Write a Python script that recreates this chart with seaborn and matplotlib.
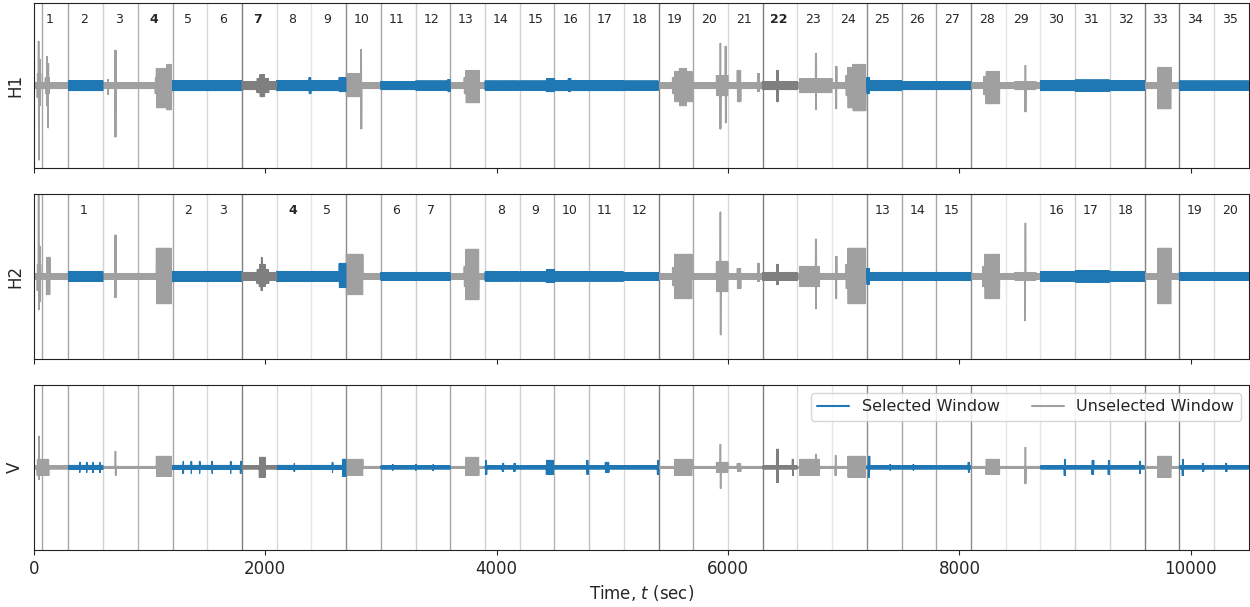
import numpy as np
import pandas as pd
import matplotlib.pyplot as plt
from matplotlib.lines import Line2D
import seaborn as sns

# window layout: 35 windows of 300 s each
WIN_LEN = 300
T_END = 10500
n_win = 35

# s = selected, u = unselected, d = unselected (darker trace)
status = ['u', 's', 'u', 'u', 's', 's', 'd', 's', 's', 'u', 's', 's', 'u', 's', 's',
          's', 's', 's', 'u', 'u', 'u', 'd', 'u', 'u', 's', 's', 's', 'u', 'u', 's',
          's', 's', 'u', 's', 's']

# window boundary lines (sec) and how dark each one is (alpha of black)
boundary_t = [70, 300, 600, 900, 1200, 1500, 1800, 2100, 2400, 2700, 3000, 3300, 3600,
              3900, 4200, 4500, 4800, 5100, 5400, 5700, 6000, 6300, 6600, 6900, 7200,
              7500, 7800, 8100, 8400, 8700, 9000, 9300, 9600, 9900, 10200]
boundary_alpha = [0.35, 0.35, 0.18, 0.3, 0.35, 0.15, 0.5, 0.15, 0.1, 0.45, 0.35, 0.2, 0.35,
                  0.18, 0.18, 0.3, 0.25, 0.15, 0.5, 0.35, 0.15, 0.5, 0.15, 0.1, 0.45,
                  0.35, 0.35, 0.45, 0.1, 0.1, 0.2, 0.18, 0.5, 0.5, 0.15]

# envelope of each trace
# base half-amplitude per window
h1_base = [3, 5, 3, 3, 5, 5, 4, 5, 5, 3, 4, 4.5, 3, 4.5, 4.5, 5, 5, 4.5, 3, 3, 3, 4, 3, 3,
           5, 4, 4, 3, 3, 5, 5.5, 5, 3, 4.5, 4.5]
h2_base = [3, 5, 3, 3, 5, 5, 4, 5, 5, 3, 4, 4, 3, 4.5, 4.5, 4.5, 4.5, 4, 3, 3, 3, 4, 3, 3,
           4, 4, 4, 3, 3, 5, 5.5, 5, 3, 4, 4]
v_base = [1.5, 2, 1, 1, 2, 2, 1.5, 2, 2, 1, 1.5, 1.5, 1, 1.5, 1.5, 1.5, 1.5, 1.5, 1, 1, 1,
          1.5, 1, 1, 1.5, 1.5, 1.5, 1, 1, 1.5, 1.5, 1.5, 1, 1.5, 1.5]

# bursts: (start, end, upper, lower)
h1_bursts = [(30, 60, 12, 12), (40, 46, 44, 74), (50, 56, 26, 20), (100, 135, 8, 8),
             (112, 118, 29, 20), (122, 128, 22, 42), (640, 646, 6, 9), (700, 712, 35, 51),
             (1050, 1060, 8, 8), (1060, 1190, 17, 22), (1150, 1190, 21, 24),
             (1930, 2030, 7, 7), (1955, 1995, 11, 11),
             (2380, 2395, 8, 8), (2640, 2700, 8, 6), (2700, 2820, 12, 11),
             (2825, 2835, 36, 43), (3580, 3600, 6, 6), (3720, 3735, 8, 8),
             (3735, 3850, 15, 17), (4430, 4500, 7, 6), (4620, 4640, 7, 6),
             (5520, 5540, 8, 8), (5540, 5690, 14, 16), (5580, 5640, 17, 20),
             (5900, 6000, 10, 10), (5930, 5938, 42, 43), (5975, 5985, 39, 37),
             (6080, 6110, 15, 16), (6255, 6270, 12, 6), (6420, 6435, 15, 16),
             (6620, 6900, 7, 7), (6755, 6765, 32, 24), (6930, 6940, 19, 23),
             (7020, 7035, 10, 10), (7035, 7190, 18, 22), (7080, 7190, 21, 25),
             (7200, 7220, 8, 8), (8210, 8230, 9, 9), (8230, 8346, 14, 18),
             (8480, 8660, 4, 4), (8565, 8575, 20, 26), (9713, 9829, 18, 23)]
h2_bursts = [(30, 60, 12, 14), (40, 46, 85, 33), (52, 58, 30, 25), (110, 140, 19, 18),
             (700, 712, 41, 21), (1060, 1190, 28, 27), (1930, 2030, 7, 7),
             (1950, 2000, 12, 10), (1965, 1975, 19, 14), (2640, 2700, 13, 11),
             (2700, 2845, 22, 18), (3720, 3733, 10, 10), (3733, 3847, 27, 23),
             (4430, 4500, 7, 6), (5520, 5538, 9, 9), (5538, 5688, 22, 22),
             (5900, 6000, 15, 15), (5932, 5938, 64, 58), (6080, 6110, 8, 12),
             (6255, 6270, 13, 5), (6420, 6435, 12, 8), (6620, 6790, 10, 10),
             (6755, 6765, 37, 32), (6930, 6940, 20, 22), (7020, 7035, 12, 12),
             (7035, 7188, 28, 27), (7200, 7220, 8, 8), (8200, 8220, 10, 10),
             (8220, 8346, 22, 22), (8480, 8660, 4, 4), (8565, 8572, 53, 44),
             (9713, 9829, 28, 27)]
v_bursts = [(30, 130, 8, 8), (42, 48, 31, 12), (395, 400, 5, 5), (455, 460, 5, 5),
            (510, 515, 5, 5), (570, 575, 5, 5), (703, 710, 16, 8), (1060, 1190, 11, 9),
            (1290, 1295, 6, 6), (1360, 1365, 6, 6), (1432, 1437, 6, 6), (1540, 1545, 6, 6),
            (1700, 1705, 6, 6), (1785, 1792, 6, 6), (1950, 2000, 10, 10),
            (2250, 2255, 4, 4), (2580, 2585, 5, 5), (2670, 2700, 8, 9),
            (2700, 2845, 8, 8), (3100, 3105, 3, 3), (3300, 3305, 3, 3), (3450, 3455, 3, 3),
            (3733, 3847, 10, 8), (3905, 3915, 7, 7), (4050, 4060, 4, 4),
            (4150, 4160, 4, 4), (4430, 4490, 7, 7), (4780, 4790, 7, 7),
            (4940, 4970, 5, 5), (5390, 5400, 7, 7), (5538, 5688, 8, 8),
            (5900, 6000, 5, 5), (5932, 5938, 23, 21), (6080, 6110, 4, 4),
            (6420, 6435, 18, 15), (6555, 6565, 8, 8), (6620, 6790, 8, 8),
            (6755, 6765, 13, 8), (6925, 6935, 12, 8), (7035, 7188, 11, 10),
            (7215, 7225, 11, 10), (7400, 7405, 3, 3), (7600, 7605, 3, 3),
            (8075, 8085, 5, 5), (8230, 8346, 8, 7), (8565, 8575, 20, 16),
            (8905, 8915, 8, 8), (9145, 9160, 7, 7), (9285, 9295, 7, 7),
            (9555, 9565, 6, 6), (9713, 9829, 11, 10), (9925, 9935, 8, 8),
            (10100, 10110, 4, 4), (10300, 10310, 4, 4)]

channels = ['H1', 'H2', 'V']
bases = [h1_base, h2_base, v_base]
bursts = [h1_bursts, h2_bursts, v_bursts]

colors = {'s': '#1f77b4', 'u': '#a0a0a0', 'd': '#7f7f7f'}
bold_labels = {'H1': [4, 7, 22], 'H2': [4]}


def build_trace(base, burst_list):
    t = np.arange(0, T_END + 1, 2.0)
    win = np.minimum((t // WIN_LEN).astype(int), n_win - 1)
    up = np.array(base, dtype=float)[win]
    dn = up.copy()
    for t0, t1, a, b in burst_list:
        m = (t >= t0) & (t <= t1)
        up[m] = np.maximum(up[m], a)
        dn[m] = np.maximum(dn[m], b)
    # trace swings between upper and lower envelope
    y = np.where(np.arange(len(t)) % 2 == 0, up, -dn)
    return pd.DataFrame({'t': t, 'amp': y, 'window': win,
                         'status': [status[w] for w in win]})


sns.set_style('ticks')
fig, axes = plt.subplots(3, 1, figsize=(12.5, 6.07), dpi=100, sharex=True)
fig.subplots_adjust(left=0.027, right=0.999, top=0.995, bottom=0.094, hspace=0.157)

for ax, ch, base, bl in zip(axes, channels, bases, bursts):
    df = build_trace(base, bl)
    sns.lineplot(data=df, x='t', y='amp', hue='status', units='window',
                 estimator=None, palette=colors, linewidth=0.8, legend=False,
                 sort=False, ax=ax)
    for bt, ba in zip(boundary_t, boundary_alpha):
        ax.axvline(bt, color='k', alpha=ba, lw=1, zorder=0)
    ax.set_xlim(0, T_END)
    ax.set_ylim(-82, 82)
    ax.set_yticks([])
    ax.set_ylabel(ch, fontsize=12, labelpad=7)
    ax.set_xlabel('')
    for sp in ax.spines.values():
        sp.set_color('#222222')

    if ch == 'H1':
        labels = list(range(1, n_win + 1))
        wins = list(range(n_win))
    elif ch == 'H2':
        wins = [i for i in range(n_win) if status[i] == 's']
        labels = list(range(1, len(wins) + 1))
    else:
        wins, labels = [], []
    for w, lab in zip(wins, labels):
        ax.text(w * WIN_LEN + WIN_LEN / 2 - 15, 0.9, str(lab),
                transform=ax.get_xaxis_transform(), ha='center', va='center',
                fontsize=9,
                fontweight='bold' if lab in bold_labels.get(ch, []) else 'normal')

axes[-1].set_xticks([0, 2000, 4000, 6000, 8000, 10000])
axes[-1].tick_params(axis='x', labelsize=12)
axes[-1].set_xlabel('Time, $t$ (sec)', fontsize=12)

handles = [Line2D([], [], color=colors['s'], lw=1.5),
           Line2D([], [], color=colors['u'], lw=1.5)]
axes[-1].legend(handles, ['Selected Window', 'Unselected Window'], loc='upper right',
                ncol=2, fontsize=11.5)

fig.savefig('out.png', dpi=100)
